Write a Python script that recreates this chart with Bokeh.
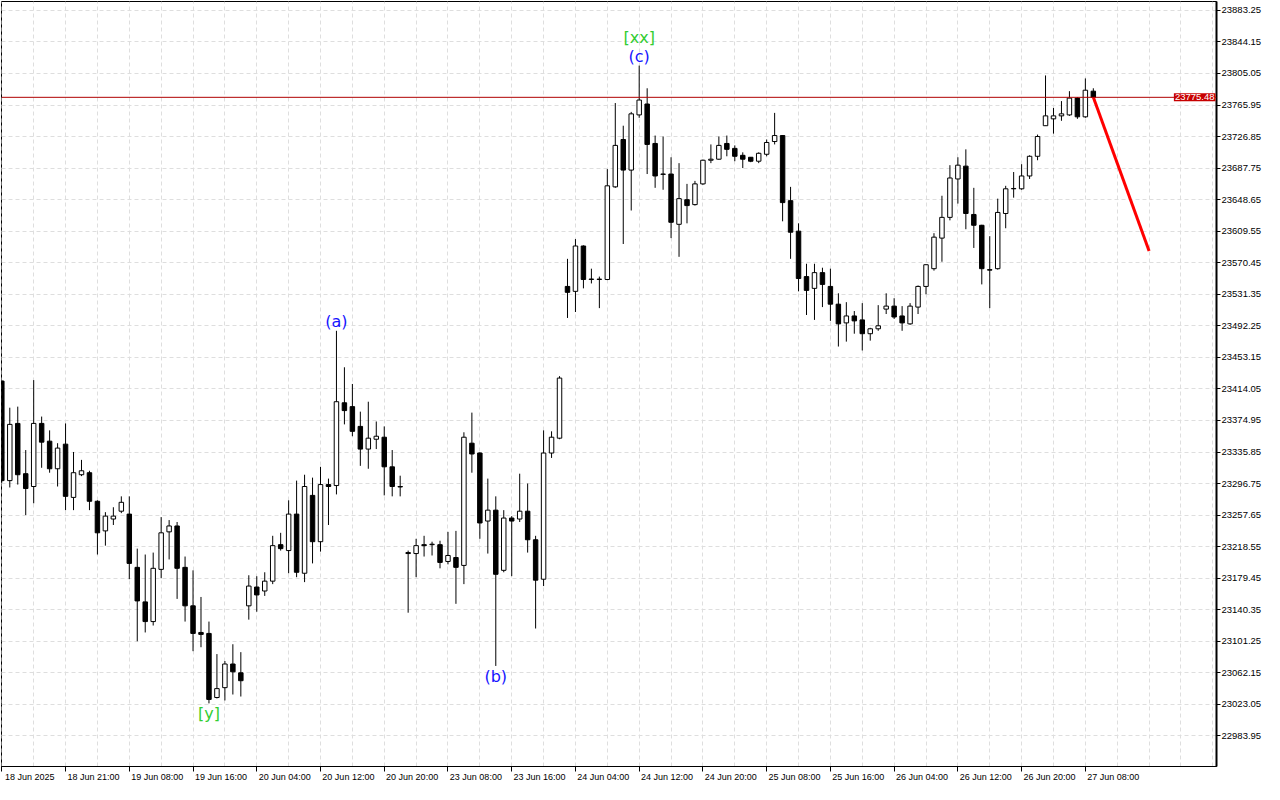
from bokeh.plotting import figure
from bokeh.models import (ColumnDataSource, FixedTicker, Range1d, Span, Label, LinearAxis,
                          PrintfTickFormatter)
from bokeh.core.properties import value
from bokeh.embed import file_html
from bokeh.resources import INLINE

# ---------------- data (hourly candles, index 0..137) ----------------
opens = [23423.8, 23300.4, 23371.3, 23309.0, 23293.1, 23371.3, 23349.3, 23315.1, 23345.6, 23279.6,
         23307.7, 23310.2, 23274.8, 23238.1, 23252.8, 23262.5, 23258.9, 23192.9, 23150.1, 23125.7,
         23190.4, 23236.9, 23244.2, 23192.9, 23145.2, 23112.2, 23111.0, 23031.6, 23043.8, 23073.1,
         23062.2, 23145.2, 23168.5, 23163.6, 23175.8, 23221.0, 23213.7, 23258.9, 23185.6, 23282.1,
         23224.7, 23295.5, 23294.3, 23396.9, 23392.1, 23367.6, 23339.5, 23351.7, 23354.2, 23317.5,
         23293.1, 23211.2, 23210.0, 23221.0, 23221.0, 23221.0, 23200.2, 23205.1, 23195.3, 23346.8,
         23334.6, 23250.3, 23263.8, 23189.2, 23254.0, 23252.8, 23262.5, 23227.1, 23178.2, 23334.6,
         23353.0, 23541.1, 23535.0, 23591.2, 23549.7, 23549.7, 23549.7, 23664.5, 23723.2, 23685.3,
         23753.7, 23767.2, 23718.3, 23680.4, 23680.4, 23618.1, 23648.6, 23642.5, 23668.2, 23697.5,
         23698.8, 23718.3, 23712.2, 23703.6, 23701.2, 23696.3, 23704.9, 23720.7, 23728.1, 23647.4,
         23609.6, 23553.3, 23538.7, 23558.2, 23541.1, 23519.1, 23495.9, 23504.5, 23499.6, 23482.5,
         23488.6, 23513.0, 23516.7, 23504.5, 23494.7, 23515.5, 23541.1, 23563.1, 23601.0, 23626.7,
         23674.3, 23690.2, 23630.3, 23616.9, 23561.9, 23563.1, 23631.5, 23662.1, 23662.1, 23678.0,
         23702.4, 23740.3, 23748.8, 23752.5, 23753.7, 23774.5, 23751.3, 23783.1]

highs = [23425.0, 23390.8, 23392.1, 23338.3, 23425.0, 23379.8, 23362.7, 23346.8, 23371.3, 23335.9,
         23326.1, 23312.6, 23276.0, 23261.3, 23267.4, 23280.9, 23280.9, 23216.1, 23208.8, 23211.2,
         23255.2, 23251.5, 23249.1, 23206.3, 23189.2, 23156.2, 23125.7, 23085.4, 23076.8, 23097.6,
         23087.8, 23183.1, 23181.9, 23186.8, 23232.0, 23235.7, 23276.0, 23300.4, 23307.7, 23304.1,
         23317.5, 23302.9, 23486.1, 23440.9, 23420.2, 23385.9, 23398.2, 23373.7, 23367.6, 23338.3,
         23306.5, 23213.7, 23228.3, 23232.0, 23224.7, 23225.9, 23236.9, 23238.1, 23360.3, 23384.7,
         23335.5, 23302.9, 23280.9, 23263.8, 23256.4, 23309.0, 23296.8, 23232.0, 23362.7, 23361.5,
         23429.9, 23575.3, 23599.8, 23592.0, 23563.1, 23553.3, 23686.5, 23768.4, 23740.3, 23757.4,
         23814.8, 23786.7, 23728.1, 23726.9, 23701.2, 23693.9, 23668.2, 23671.9, 23698.3, 23717.1,
         23726.9, 23728.1, 23715.9, 23707.3, 23701.5, 23707.3, 23723.2, 23756.2, 23728.6, 23664.5,
         23619.3, 23569.2, 23569.2, 23564.3, 23563.1, 23532.6, 23521.6, 23510.6, 23520.4, 23489.8,
         23517.9, 23532.6, 23526.5, 23516.7, 23520.4, 23542.3, 23568.5, 23607.1, 23653.5, 23691.4,
         23701.2, 23711.0, 23663.3, 23617.5, 23603.4, 23649.9, 23665.8, 23682.9, 23692.6, 23703.6,
         23729.3, 23802.6, 23762.3, 23770.8, 23783.1, 23775.7, 23798.9, 23786.7]

lows = [23298.0, 23291.9, 23295.5, 23257.7, 23272.3, 23316.3, 23310.2, 23293.1, 23263.8, 23263.8,
        23306.0, 23263.8, 23208.8, 23219.8, 23245.4, 23260.1, 23178.2, 23101.3, 23112.2, 23120.8,
        23179.4, 23202.7, 23153.8, 23125.7, 23089.0, 23093.9, 23024.3, 23030.4, 23027.9, 23035.3,
        23032.8, 23128.1, 23137.9, 23157.5, 23172.1, 23213.7, 23185.6, 23180.7, 23174.6, 23197.8,
        23212.4, 23245.4, 23283.3, 23370.1, 23355.4, 23318.7, 23315.1, 23339.5, 23282.1, 23280.9,
        23280.9, 23136.7, 23180.7, 23206.3, 23207.6, 23191.7, 23196.6, 23147.7, 23172.1, 23310.2,
        23228.3, 23210.0, 23070.7, 23186.8, 23182.0, 23249.1, 23211.2, 23117.1, 23169.7, 23328.5,
        23351.7, 23502.0, 23509.4, 23538.7, 23544.8, 23514.2, 23548.9, 23663.3, 23593.7, 23635.2,
        23750.1, 23680.4, 23663.3, 23660.9, 23601.0, 23577.8, 23619.3, 23641.3, 23667.0, 23693.9,
        23698.0, 23702.4, 23696.3, 23687.8, 23695.1, 23693.9, 23702.4, 23717.1, 23621.8, 23575.3,
        23535.0, 23505.7, 23499.6, 23515.5, 23498.4, 23466.6, 23472.7, 23482.5, 23461.7, 23473.9,
        23486.1, 23506.9, 23500.8, 23486.1, 23493.5, 23506.9, 23531.4, 23560.7, 23571.7, 23623.0,
        23643.8, 23612.0, 23588.8, 23543.6, 23514.2, 23561.9, 23613.2, 23651.1, 23660.9, 23674.3,
        23697.5, 23740.0, 23730.5, 23746.4, 23752.5, 23748.8, 23750.1, 23775.0]

closes = [23300.4, 23370.1, 23307.7, 23290.6, 23371.3, 23348.1, 23315.1, 23340.7, 23280.9, 23310.2,
          23312.6, 23274.8, 23235.7, 23256.4, 23256.4, 23273.5, 23197.8, 23151.3, 23125.7, 23191.7,
          23235.7, 23244.2, 23191.7, 23145.2, 23111.0, 23109.8, 23029.2, 23042.6, 23073.1, 23063.4,
          23052.4, 23169.7, 23158.7, 23175.8, 23219.8, 23216.1, 23258.9, 23186.8, 23293.1, 23224.7,
          23295.5, 23293.1, 23398.2, 23387.2, 23361.5, 23339.5, 23353.0, 23355.4, 23317.5, 23293.1,
          23292.5, 23210.0, 23219.8, 23219.8, 23221.6, 23199.0, 23207.6, 23192.9, 23354.2, 23333.4,
          23247.9, 23263.8, 23184.3, 23254.0, 23250.3, 23262.5, 23227.1, 23177.0, 23334.6, 23354.2,
          23427.5, 23533.8, 23591.2, 23549.7, 23550.3, 23550.2, 23665.8, 23715.9, 23685.3, 23755.0,
          23772.1, 23717.1, 23678.0, 23680.0, 23620.6, 23649.9, 23641.3, 23668.2, 23697.5, 23698.8,
          23715.9, 23711.0, 23702.4, 23698.8, 23696.3, 23706.1, 23719.5, 23728.1, 23645.0, 23608.3,
          23550.9, 23536.2, 23558.2, 23543.6, 23519.1, 23494.7, 23504.5, 23498.4, 23482.5, 23488.6,
          23492.3, 23516.7, 23503.2, 23495.9, 23516.7, 23541.1, 23568.0, 23602.2, 23626.7, 23675.5,
          23691.4, 23631.5, 23616.9, 23563.1, 23561.3, 23632.8, 23662.1, 23662.5, 23678.0, 23702.4,
          23726.9, 23752.5, 23752.5, 23755.0, 23774.5, 23751.3, 23784.3, 23775.48]

x_tick_pos = [0, 8, 16, 24, 32, 40, 48, 56, 64, 72, 80, 88, 96, 104, 112, 120, 128, 136]
x_tick_labels = ["18 Jun 2025", "18 Jun 21:00", "19 Jun 08:00", "19 Jun 16:00", "20 Jun 04:00",
                 "20 Jun 12:00", "20 Jun 20:00", "23 Jun 08:00", "23 Jun 16:00", "24 Jun 04:00",
                 "24 Jun 12:00", "24 Jun 20:00", "25 Jun 08:00", "25 Jun 16:00", "26 Jun 04:00",
                 "26 Jun 12:00", "26 Jun 20:00", "27 Jun 08:00"]

y_tick_values = [22983.95, 23023.05, 23062.15, 23101.25, 23140.35, 23179.45, 23218.55, 23257.65,
                 23296.75, 23335.85, 23374.95, 23414.05, 23453.15, 23492.25, 23531.35, 23570.45,
                 23609.55, 23648.65, 23687.75, 23726.85, 23765.95, 23805.05, 23844.15, 23883.25]

current_price = 23775.48
forecast_x = [137, 144]
forecast_y = [23775.48, 23585.0]

wave_text = ["(a)", "(c)", "[xx]"]
wave_idx = [42, 80, 80]
wave_colors = ["#1414ff", "#1414ff", "#32cd32"]
wave_low_text = ["(b)", "[y]"]
wave_low_idx = [62, 26]
wave_low_colors = ["#1414ff", "#32cd32"]

# ---------------- figure ----------------
X0, X1 = -0.04, 152.46
Y0, Y1 = 22946.07, 23894.25
LABEL_SHIFT = 3.5   # date texts start just right of their tick (MT style)

p = figure(width=1264, height=784, x_range=Range1d(X0, X1), y_range=Range1d(Y0, Y1),
           y_axis_location="right", toolbar_location=None, output_backend="svg",
           min_border_left=1, min_border_top=1, min_border_right=46, min_border_bottom=0,
           background_fill_color="white", border_fill_color="white")
p.outline_line_color = "black"
p.outline_line_width = 1

# grid
p.xgrid.ticker = FixedTicker(ticks=list(range(0, 153, 4)))
for g in (p.xgrid, p.ygrid):
    g.grid_line_color = "#dedede"
    g.grid_line_dash = "4 3"
    g.grid_line_width = 1

# y axis (right)
yax = p.yaxis[0]
yax.ticker = FixedTicker(ticks=y_tick_values)
yax.formatter = PrintfTickFormatter(format="%.2f")
yax.axis_line_width = 2
yax.axis_line_color = "black"
yax.major_tick_out = 4
yax.major_tick_in = 0
yax.minor_tick_out = 0
yax.minor_tick_in = 0
yax.major_label_standoff = 1
yax.major_label_text_font = "Liberation Sans"
yax.major_label_text_font_size = "9.5px"
yax.major_label_text_color = "black"

# x axis: tick marks only
xax = p.xaxis[0]
xax.ticker = FixedTicker(ticks=x_tick_pos)
xax.major_label_overrides = {t: "" for t in x_tick_pos}
xax.major_label_standoff = 0
xax.axis_line_color = "black"
xax.major_tick_out = 5
xax.major_tick_in = 0
xax.minor_tick_out = 0
xax.minor_tick_in = 0

# second x axis: the date texts, placed to the right of each tick
lab_pos = [t + LABEL_SHIFT for t in x_tick_pos]
xlab = LinearAxis(ticker=FixedTicker(ticks=lab_pos),
                  major_label_overrides={lp: s for lp, s in zip(lab_pos, x_tick_labels)},
                  axis_line_color=None, major_tick_out=0, major_tick_in=0,
                  minor_tick_out=0, minor_tick_in=0, major_label_standoff=0,
                  major_label_text_font="Liberation Sans", major_label_text_font_size="9px",
                  major_label_text_color="black")
p.add_layout(xlab, "below")

# candles
n = len(opens)
idx = list(range(n))
up = [i for i in idx if closes[i] >= opens[i]]
dn = [i for i in idx if closes[i] < opens[i]]
wick_src = ColumnDataSource(dict(x=idx, high=highs, low=lows))
up_src = ColumnDataSource(dict(x=up, top=[closes[i] for i in up], bottom=[opens[i] for i in up]))
dn_src = ColumnDataSource(dict(x=dn, top=[opens[i] for i in dn], bottom=[closes[i] for i in dn]))

p.segment(x0="x", y0="high", x1="x", y1="low", source=wick_src, line_color="black", line_width=1)
p.vbar(x="x", top="top", bottom="bottom", width=0.56, source=up_src,
       fill_color="white", line_color="black", line_width=1)
p.vbar(x="x", top="top", bottom="bottom", width=0.56, source=dn_src,
       fill_color="black", line_color="black", line_width=1)

# current price line
p.add_layout(Span(location=current_price, dimension="width", line_color="#b00000", line_width=1))

# forecast line
p.line(x=forecast_x, y=forecast_y, line_color="#ff0000", line_width=3)

# wave labels
for t, i, c in zip(wave_text, wave_idx, wave_colors):
    off = -19 if t == "[xx]" else 0
    p.text(x=[i], y=[highs[i]], text=[t], text_color=c, text_align="center",
           text_baseline="bottom", y_offset=off, text_font=value("DejaVu Sans"),
           text_font_size="16px")
for t, i, c in zip(wave_low_text, wave_low_idx, wave_low_colors):
    p.text(x=[i], y=[lows[i]], text=[t], text_color=c, text_align="center",
           text_baseline="top", y_offset=1, text_font=value("DejaVu Sans"),
           text_font_size="16px")

# price tag (kept just inside the frame's right edge, next to the price axis)
p.add_layout(Label(x=X1, y=current_price, text="23775.48", x_offset=-1, text_align="right",
                   text_baseline="middle", text_color="white", background_fill_color="#c80000",
                   text_font="Liberation Sans", text_font_size="9.5px", padding=1))

open("out.html", "w").write(file_html(p, INLINE))
